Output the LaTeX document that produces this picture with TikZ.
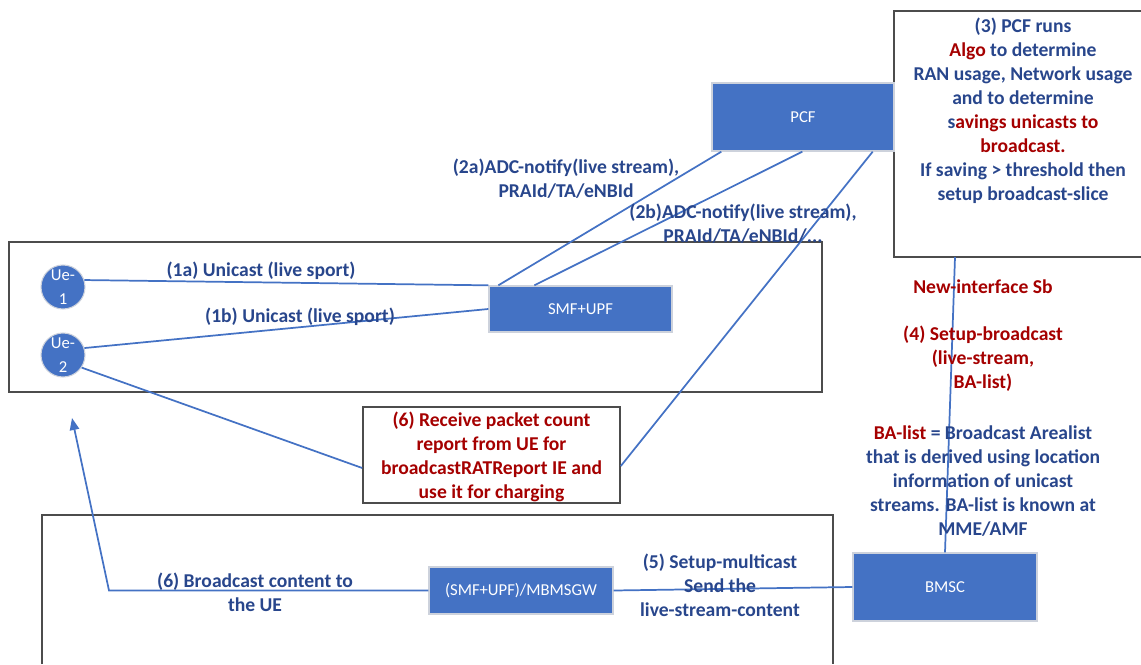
\documentclass[tikz,border=0pt]{standalone}
\usepackage{fontspec}
\setmainfont{Carlito}
\usetikzlibrary{calc,arrows.meta}
\definecolor{ublue}{RGB}{68,114,196}
\definecolor{tblue}{RGB}{40,70,140}
\definecolor{tred}{RGB}{165,0,0}
\definecolor{bframe}{RGB}{205,210,220}
\tikzset{
  lbl/.style={font=\fontsize{14.7}{18}\selectfont\bfseries, text=tblue, align=center, inner sep=0pt},
  rlbl/.style={lbl, text=tred},
  nf/.style={rectangle, fill=ublue, draw=bframe, line width=1pt, text=white, font=\fontsize{12.5}{15}\selectfont, inner sep=0pt},
  uecirc/.style={circle, fill=ublue, draw=bframe, line width=0.8pt, minimum size=33pt, inner sep=0pt},
  uetext/.style={text=white, font=\fontsize{12.5}{18.5}\selectfont, align=center, inner sep=0pt},
  link/.style={draw=ublue, line width=1.3pt},
  frame/.style={draw=black!70, line width=1.2pt},
}
\begin{document}
\begin{tikzpicture}[x=0.75pt,y=-0.75pt]
\useasboundingbox (0,0) rectangle (1141,664);
% container frames
\draw[frame] (9,242) rectangle (822,392);
\draw[frame] (42,664) -- (42,515) -- (833,515) -- (833,664);
\draw[frame] (1141,11) -- (894,11) -- (894,257) -- (1141,257);

% nodes
\node[nf, minimum width=136.5pt, minimum height=51pt] (pcf) at (803,117) {PCF};
\node[nf, minimum width=137.25pt, minimum height=34.5pt] (smf) at (580.5,309) {SMF+UPF};
\node[nf, minimum width=138pt, minimum height=35.25pt] (mbms) at (521,590.5) {(SMF+UPF)/MBMSGW};
\node[nf, minimum width=138pt, minimum height=51pt] (bmsc) at (945,587) {BMSC};
\node[uecirc] (ue1) at (63,287) {};
\node[uetext] (ue1t) at (ue1) {Ue-\\1};
\node[uecirc] (ue2) at (63,355) {};
\node[uetext] (ue2t) at (ue2) {Ue-\\2};
\node[draw=black!70, line width=1.2pt, minimum width=192.75pt, minimum height=72pt, inner sep=0pt] (rb) at (491.5,455) {};
\node[rlbl] (rbt) at (491.5,457) {(6) Receive packet count\\report from UE for\\broadcastRATReport IE and\\use it for charging};

\node[lbl] (algo) at (1023,111) {(3) PCF runs\\\textcolor{tred}{Algo} to determine\\RAN usage, Network usage\\and to determine\\s\textcolor{tred}{avings unicasts to}\\\textcolor{tred}{broadcast.}\\If saving > threshold then\\setup broadcast-slice};

\coordinate (b3s) at (955,257);
\coordinate (bend) at (109,590.5);
\coordinate (ueArrow) at (72,418);

% connectors
\draw[link] (ue1.18) -- (smf.north west);
\draw[link] (ue2.18) -- (smf.west);
\draw[link] (ue2.-34) -- ($(rb.west)+(0,13)$);
\draw[link] ($(pcf.south west)+(10,0)$) -- ($(smf.north west)+(10,0)$);
\draw[link] ($(pcf.south west)+(91,0)$) -- ($(smf.north west)+(46,0)$);
\draw[link] ($(pcf.south east)+(-22,0)$) -- ($(rb.east)+(0,11)$);
\draw[link] (b3s) -- (bmsc.north);
\draw[link] (mbms.east) -- (bmsc.west);
\draw[link, -{Triangle[length=9pt, width=7pt]}] (mbms.west) -- (bend) -- (ueArrow);

% labels
\node[lbl] (l2a) at (566,178.5) {(2a)ADC-notify(live stream),\\PRAId/TA/eNBId};
\node[lbl] (l2b) at (743,224) {(2b)ADC-notify(live stream),\\PRAId/TA/eNBId/...};
\node[lbl] (l1a) at (261,271) {(1a) Unicast (live sport)};
\node[lbl] (l1b) at (300,317) {(1b) Unicast (live sport)};
\node[rlbl] (lsb) at (983,287) {New-interface Sb};
\node[rlbl] (l4) at (983,359) {(4) Setup-broadcast\\(live-stream,\\BA-list)};
\node[lbl] (lba) at (983,481) {\textcolor{tred}{BA-list} = Broadcast Arealist\\that is derived using location\\information of unicast\\streams. BA-list is known at\\MME/AMF};
\node[lbl] (l6b) at (255,592) {(6) Broadcast content to\\the UE};
\node[lbl] (l5) at (720,585.5) {(5) Setup-multicast\\Send the\\live-stream-content};
\end{tikzpicture}
\end{document}
